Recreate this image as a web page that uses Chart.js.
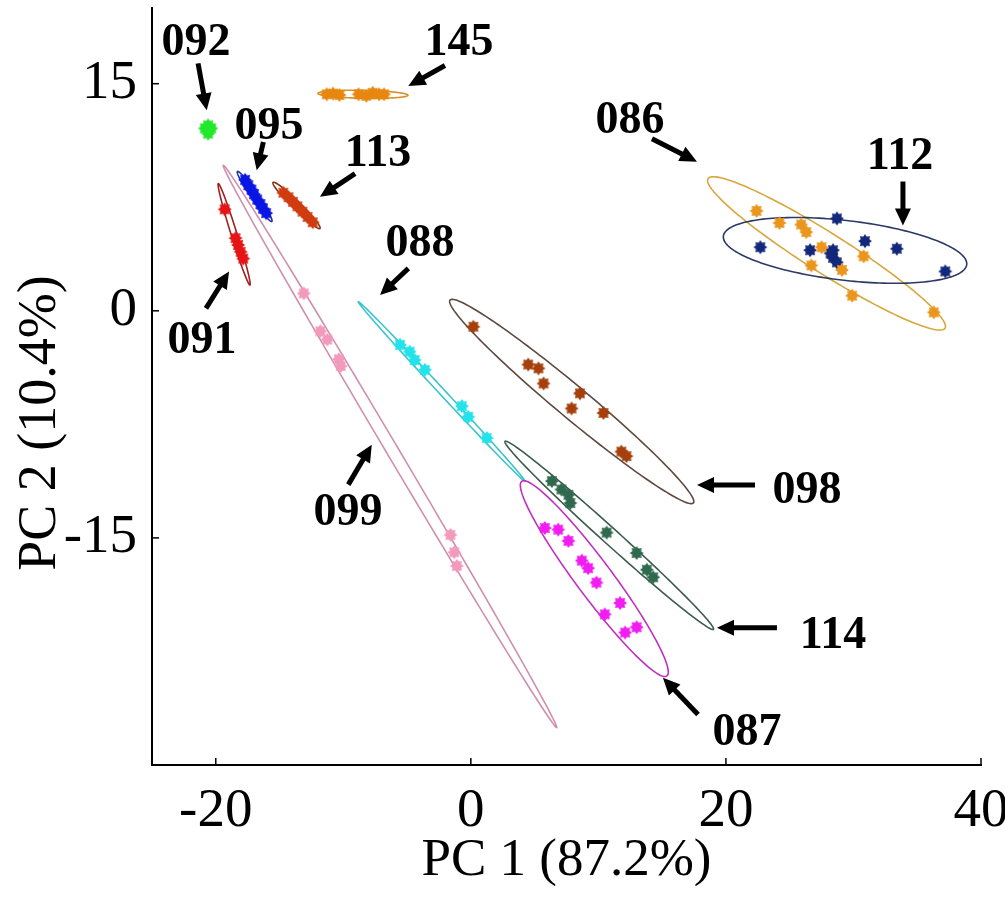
<!DOCTYPE html>
<html>
<head>
<meta charset="utf-8">
<script src="https://cdn.jsdelivr.net/npm/chart.js@4.4.1/dist/chart.umd.min.js"></script>
<style>
  html, body { margin: 0; padding: 0; background: #fff; }
</style>
</head>
<body>
<canvas id="pcaChart" width="1005" height="898"></canvas>
<script>
// ---------- scores: [PC1, PC2] ----------
const pc086 = [[22.4, 6.6], [24.2, 5.8], [25.9, 5.7], [26.3, 5.2], [27.5, 4.2], [30.8, 3.6], [26.7, 3.0], [29.1, 2.7], [29.9, 1.0], [36.3, -0.1]];
const pc112 = [[28.7, 6.1], [22.7, 4.2], [26.6, 4.0], [28.4, 4.0], [28.4, 3.5], [28.7, 3.2], [28.2, 3.8], [30.9, 4.6], [33.4, 4.1], [37.2, 2.6]];
const pc145 = [[-11.3, 14.3], [-10.8, 14.35], [-10.3, 14.25], [-8.8, 14.3], [-8.2, 14.2], [-7.7, 14.4], [-7.2, 14.3], [-6.8, 14.3]];
const pc092 = [[-20.85, 12.05], [-20.35, 12.05], [-20.6, 11.7], [-20.6, 12.25], [-20.6, 11.95]];
const pc095 = [[-17.7, 8.65], [-17.45, 8.3], [-17.2, 8.0], [-17.0, 7.7], [-16.75, 7.35], [-16.5, 7.05], [-16.3, 6.75], [-16.05, 6.45]];
const pc113 = [[-14.7, 7.8], [-14.3, 7.5], [-13.95, 7.2], [-13.6, 6.9], [-13.2, 6.55], [-12.8, 6.2], [-12.4, 5.85]];
const pc091 = [[-19.3, 6.7], [-18.45, 4.8], [-18.25, 4.35], [-18.05, 3.9], [-17.85, 3.45]];
const pc099 = [[-13.1, 1.15], [-11.8, -1.35], [-11.25, -1.9], [-10.35, -3.2], [-10.2, -3.65], [-1.6, -14.8], [-1.3, -15.95], [-1.1, -16.85]];
const pc088 = [[-5.55, -2.25], [-4.8, -2.7], [-4.4, -3.25], [-3.6, -3.9], [-0.7, -6.3], [-0.2, -7.0], [1.25, -8.4]];
const pc098 = [[0.2, -1.05], [4.5, -3.55], [5.3, -3.8], [5.7, -4.8], [8.55, -5.45], [7.9, -6.45], [10.4, -6.75], [11.8, -9.3], [12.2, -9.6]];
const pc114 = [[6.35, -11.25], [7.1, -11.8], [7.65, -12.15], [7.8, -12.7], [10.65, -14.65], [13.0, -16.0], [13.8, -17.1], [14.3, -17.6]];
const pc087 = [[5.8, -14.35], [6.85, -14.45], [7.65, -15.2], [8.7, -16.5], [9.2, -17.0], [9.85, -17.95], [11.7, -19.3], [10.5, -20.05], [12.1, -21.25], [13.0, -20.9]];

// confidence ellipses: centre, semi-axis a, semi-axis b (all in PC units)
const ell086 = [[27.89, 3.79], [9.29, -4.94], [-0.84, -1.11]];
const ell112 = [[29.34, 3.99], [9.54, -0.94], [-0.27, -1.96]];
const ell145 = [[-8.46, 14.3], [3.53, -0.06], [0, 0.26]];
const ell099 = [[-6.34, -8.96], [13.07, -18.57], [0.41, 0.2]];
const ell088 = [[-2.29, -5.33], [6.54, -5.93], [0.17, 0.13]];
const ell098 = [[7.91, -5.99], [9.54, -6.7], [0.8, 0.81]];
const ell114 = [[10.85, -14.83], [8.17, -6.21], [0.42, 0.39]];
const ell087 = [[9.68, -17.69], [5.69, -6.43], [1.13, 0.71]];
const ell113 = [[-13.67, 6.96], [1.84, -1.52], [0.22, 0.19]];
const ell091 = [[-18.56, 5.05], [1.24, -3.35], [0.22, 0.06]];
const ell095 = [[-16.95, 7.55], [1.35, -1.65], [0.2, 0.15]];

const xTicks = [-20, 0, 20, 40];
const yTicks = [-15, 0, 15];

// group labels with their arrows (tail -> head), PC units
const callouts = [
  { text: "092", at: [-21.55, 17.7], from: [-21.39, 16.34], to: [-20.71, 13.24] },
  { text: "145", at: [-0.93, 17.7], from: [-2.03, 16.2], to: [-4.9, 14.85] },
  { text: "095", at: [-15.83, 12.16], from: [-16.27, 11.15], to: [-16.79, 9.28] },
  { text: "113", at: [-7.28, 10.32], from: [-9.08, 9.06], to: [-11.83, 7.53] },
  { text: "088", at: [-3.99, 4.39], from: [-4.9, 2.8], to: [-7.12, 1.04] },
  { text: "091", at: [-21.08, -2.01], from: [-20.77, 0.16], to: [-18.96, 2.6] },
  { text: "099", at: [-9.63, -13.35], from: [-9.61, -11.48], to: [-7.77, -8.85] },
  { text: "086", at: [12.48, 12.56], from: [14.2, 11.37], to: [17.73, 9.85] },
  { text: "112", at: [33.65, 10.12], from: [33.88, 8.54], to: [33.88, 5.64] },
  { text: "098", at: [26.36, -11.9], from: [22.28, -11.5], to: [17.73, -11.5] },
  { text: "114", at: [28.4, -21.46], from: [24.0, -20.93], to: [19.3, -20.93] },
  { text: "087", at: [21.65, -27.92], from: [17.81, -26.66], to: [15.06, -24.23] },
];

const groups = [
  { name: "086", pts: pc086, ell: ell086, color: "#ea951c", line: "#d6a73c" },
  { name: "112", pts: pc112, ell: ell112, color: "#13287a", line: "#2b3966" },
  { name: "145", pts: pc145, ell: ell145, color: "#e8870f", line: "#d8922a" },
  { name: "092", pts: pc092, ell: null, color: "#22e82a", line: null },
  { name: "095", pts: pc095, ell: ell095, color: "#0a16e4", line: "#2030a0" },
  { name: "113", pts: pc113, ell: ell113, color: "#d03c10", line: "#8a3010" },
  { name: "091", pts: pc091, ell: ell091, color: "#e61414", line: "#a02020" },
  { name: "099", pts: pc099, ell: ell099, color: "#f29abc", line: "#cf8fb0" },
  { name: "088", pts: pc088, ell: ell088, color: "#22e2ea", line: "#3cc4cc" },
  { name: "098", pts: pc098, ell: ell098, color: "#a5400c", line: "#5e4a40" },
  { name: "114", pts: pc114, ell: ell114, color: "#2f6a4e", line: "#3b5a50" },
  { name: "087", pts: pc087, ell: ell087, color: "#f01cf0", line: "#c030c0" },
];

const serif = "'Liberation Serif', 'Times New Roman', serif";

function starMarker(color, r) {
  const c = document.createElement("canvas");
  const size = Math.ceil(r * 2 + 2);
  c.width = size;
  c.height = size;
  const g = c.getContext("2d");
  g.fillStyle = color;
  g.beginPath();
  for (let i = 0; i < 16; i++) {
    const ang = (i * Math.PI) / 8 - Math.PI / 2;
    const rr = i % 2 === 0 ? r : r * 0.68;
    const x = size / 2 + rr * Math.cos(ang);
    const y = size / 2 + rr * Math.sin(ang);
    if (i === 0) g.moveTo(x, y);
    else g.lineTo(x, y);
  }
  g.closePath();
  g.fill();
  return c;
}

/* ---------- ellipses, inward ticks, labels + arrows ---------- */
const ellipsePlugin = {
  id: "ellipses",
  beforeDatasetsDraw(chart) {
    const sx = chart.scales.x, sy = chart.scales.y;
    const ctx = chart.ctx;
    ctx.save();
    ctx.lineWidth = 1.6;
    groups.forEach((g) => {
      if (!g.ell) return;
      const [c, a, b] = g.ell;
      ctx.strokeStyle = g.line;
      ctx.beginPath();
      for (let i = 0; i <= 180; i++) {
        const t = (i / 180) * Math.PI * 2;
        const x = c[0] + a[0] * Math.cos(t) + b[0] * Math.sin(t);
        const y = c[1] + a[1] * Math.cos(t) + b[1] * Math.sin(t);
        const X = sx.getPixelForValue(x), Y = sy.getPixelForValue(y);
        if (i === 0) ctx.moveTo(X, Y);
        else ctx.lineTo(X, Y);
      }
      ctx.closePath();
      ctx.stroke();
    });
    ctx.restore();
  },
};

const calloutPlugin = {
  id: "callouts",
  afterDraw(chart) {
    const sx = chart.scales.x, sy = chart.scales.y;
    const ctx = chart.ctx;
    const area = chart.chartArea;
    ctx.save();
    // inward tick marks
    ctx.strokeStyle = "#000";
    ctx.lineWidth = 1.5;
    xTicks.forEach((v) => {
      const X = sx.getPixelForValue(v);
      ctx.beginPath();
      ctx.moveTo(X, area.bottom);
      ctx.lineTo(X, area.bottom - 7);
      ctx.stroke();
    });
    yTicks.forEach((v) => {
      const Y = sy.getPixelForValue(v);
      ctx.beginPath();
      ctx.moveTo(area.left, Y);
      ctx.lineTo(area.left + 7, Y);
      ctx.stroke();
    });

    // y axis title (sits a little below the middle in the original)
    ctx.fillStyle = "#000";
    ctx.save();
    ctx.translate(41, 423);
    ctx.rotate(-Math.PI / 2);
    ctx.font = "54px " + serif;
    ctx.textAlign = "center";
    ctx.textBaseline = "middle";
    ctx.fillText("PC 2 (10.4%)", 0, 0);
    ctx.restore();

    ctx.font = "bold 46px " + serif;
    ctx.textAlign = "center";
    ctx.textBaseline = "middle";
    callouts.forEach((c) => {
      ctx.fillText(c.text, sx.getPixelForValue(c.at[0]), sy.getPixelForValue(c.at[1]));
      const x1 = sx.getPixelForValue(c.from[0]), y1 = sy.getPixelForValue(c.from[1]);
      const x2 = sx.getPixelForValue(c.to[0]), y2 = sy.getPixelForValue(c.to[1]);
      const ang = Math.atan2(y2 - y1, x2 - x1);
      const head = 17;
      ctx.lineWidth = 5;
      ctx.beginPath();
      ctx.moveTo(x1, y1);
      ctx.lineTo(x2 - head * 0.8 * Math.cos(ang), y2 - head * 0.8 * Math.sin(ang));
      ctx.stroke();
      ctx.beginPath();
      ctx.moveTo(x2, y2);
      ctx.lineTo(x2 - head * Math.cos(ang) + 8 * Math.sin(ang), y2 - head * Math.sin(ang) - 8 * Math.cos(ang));
      ctx.lineTo(x2 - head * Math.cos(ang) - 8 * Math.sin(ang), y2 - head * Math.sin(ang) + 8 * Math.cos(ang));
      ctx.closePath();
      ctx.fill();
    });
    ctx.restore();
  },
};

const tickFont = { family: serif, size: 55, lineHeight: 1.2 };
const titleFont = { family: serif, size: 53, lineHeight: 1.2 };

new Chart(document.getElementById("pcaChart"), {
  type: "scatter",
  data: {
    datasets: groups.map((g) => ({
      label: g.name,
      data: g.pts.map((p) => ({ x: p[0], y: p[1] })),
      pointStyle: starMarker(g.color, 7),
      showLine: false,
    })),
  },
  options: {
    responsive: false,
    animation: false,
    events: [],
    layout: { padding: { top: 8, right: 24, bottom: 5, left: 0 } },
    plugins: {
      legend: { display: false },
      tooltip: { enabled: false },
    },
    scales: {
      x: {
        type: "linear",
        min: -25,
        max: 40,
        afterBuildTicks: (s) => { s.ticks = xTicks.map((v) => ({ value: v })); },
        afterFit: (s) => { s.height = 128; s.paddingLeft = 0; s.paddingRight = 0; },
        grid: { drawOnChartArea: false, drawTicks: false },
        border: { display: true, color: "#000", width: 2 },
        ticks: { padding: 14, color: "#000", maxRotation: 0, font: tickFont },
        title: { display: true, text: "PC 1 (87.2%)", color: "#000", font: titleFont, padding: { top: 0, bottom: 0 } },
      },
      y: {
        type: "linear",
        min: -30,
        max: 20,
        afterBuildTicks: (s) => { s.ticks = yTicks.map((v) => ({ value: v })); },
        afterFit: (s) => { s.width = 152; s.paddingTop = 0; s.paddingBottom = 0; },
        grid: { drawOnChartArea: false, drawTicks: false },
        border: { display: true, color: "#000", width: 2 },
        ticks: { padding: 15, color: "#000", font: tickFont },
        title: { display: false },
      },
    },
  },
  plugins: [ellipsePlugin, calloutPlugin],
});
</script>
</body>
</html>
